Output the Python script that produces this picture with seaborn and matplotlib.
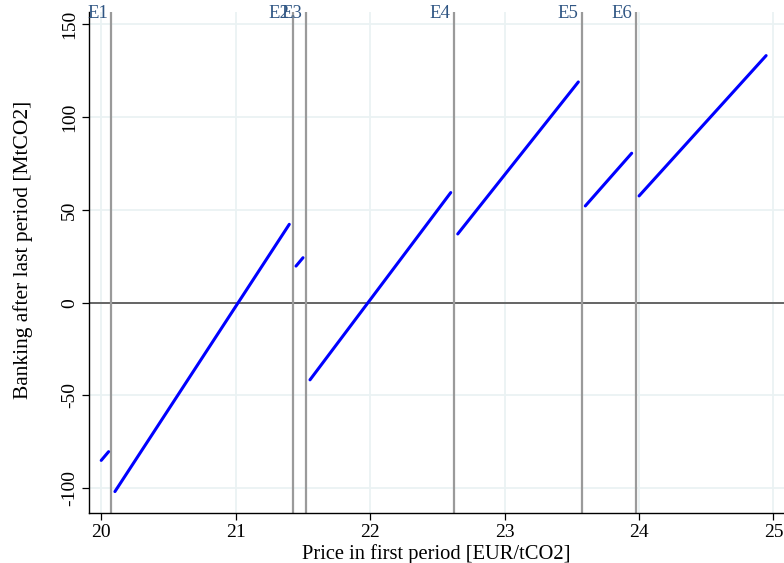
import matplotlib
matplotlib.use("Agg")
import matplotlib.pyplot as plt
import seaborn as sns
import pandas as pd

# Data
seg_x = [[20.000, 20.055], [20.102, 21.399], [21.449, 21.501], [21.553, 22.600],
         [22.652, 23.549], [23.601, 23.946], [24.001, 24.946]]
seg_y = [[-85.0, -80.3], [-101.8, 42.2], [19.7, 24.2], [-41.6, 59.3],
         [37.0, 118.9], [52.1, 80.5], [57.5, 133.1]]
event_x = [20.076, 21.426, 21.523, 22.622, 23.574, 23.976]
event_labels = ["E1", "E2", "E3", "E4", "E5", "E6"]
x_ticks = [20, 21, 22, 23, 24, 25]
y_ticks = [-100, -50, 0, 50, 100, 150]

rows = []
for i, (xs, ys) in enumerate(zip(seg_x, seg_y)):
    for xv, yv in zip(xs, ys):
        rows.append({"seg": i, "x": xv, "y": yv})
df = pd.DataFrame(rows)

sns.set_theme(style="white")
plt.rcParams["font.family"] = ["Liberation Serif", "DejaVu Serif"]
plt.rcParams["axes.unicode_minus"] = False

fig = plt.figure(figsize=(7.84, 5.63), dpi=100)
ax = fig.add_axes([0.1135, 0.0883, 0.8865, 0.8904])

ax.set_xlim(19.909, 25.079)
ax.set_ylim(-113.5, 156.6)
ax.set_xticks(x_ticks)
ax.set_yticks(y_ticks)

grid_c = "#EAF2F3"
for xv in x_ticks:
    ax.axvline(xv, color=grid_c, lw=1.3, zorder=0)
for yv in y_ticks:
    ax.axhline(yv, color=grid_c, lw=1.3, zorder=0)

ax.axhline(0, color="#5a5a5a", lw=1.3, zorder=1)
for xv, lab in zip(event_x, event_labels):
    ax.axvline(xv, color="#9a9a9a", lw=1.6, zorder=1)
    ax.text(xv - 0.026, 160.6, lab, ha="right", va="top", fontsize=13.5,
            color="#2f5583", zorder=3, clip_on=False)

sns.lineplot(data=df, x="x", y="y", units="seg", estimator=None, color="#0000FF",
             lw=2.2, ax=ax, zorder=2, legend=False)

for s in ["top", "right"]:
    ax.spines[s].set_visible(False)
for s in ["left", "bottom"]:
    ax.spines[s].set_color("black")
    ax.spines[s].set_linewidth(1.0)

ax.tick_params(axis="both", direction="out", length=5, width=0.9, color="black",
               labelsize=14, labelcolor="black", pad=3, bottom=True, left=True)
for t in ax.get_yticklabels():
    t.set_rotation(90)
    t.set_va("center")

ax.set_xlabel("Price in first period [EUR/tCO2]", fontsize=14.8, color="black", labelpad=2)
ax.set_ylabel("Banking after last period [MtCO2]", fontsize=15.5, color="black")
ax.yaxis.set_label_coords(-0.081, 0.525)

fig.savefig("out.png", dpi=100)
